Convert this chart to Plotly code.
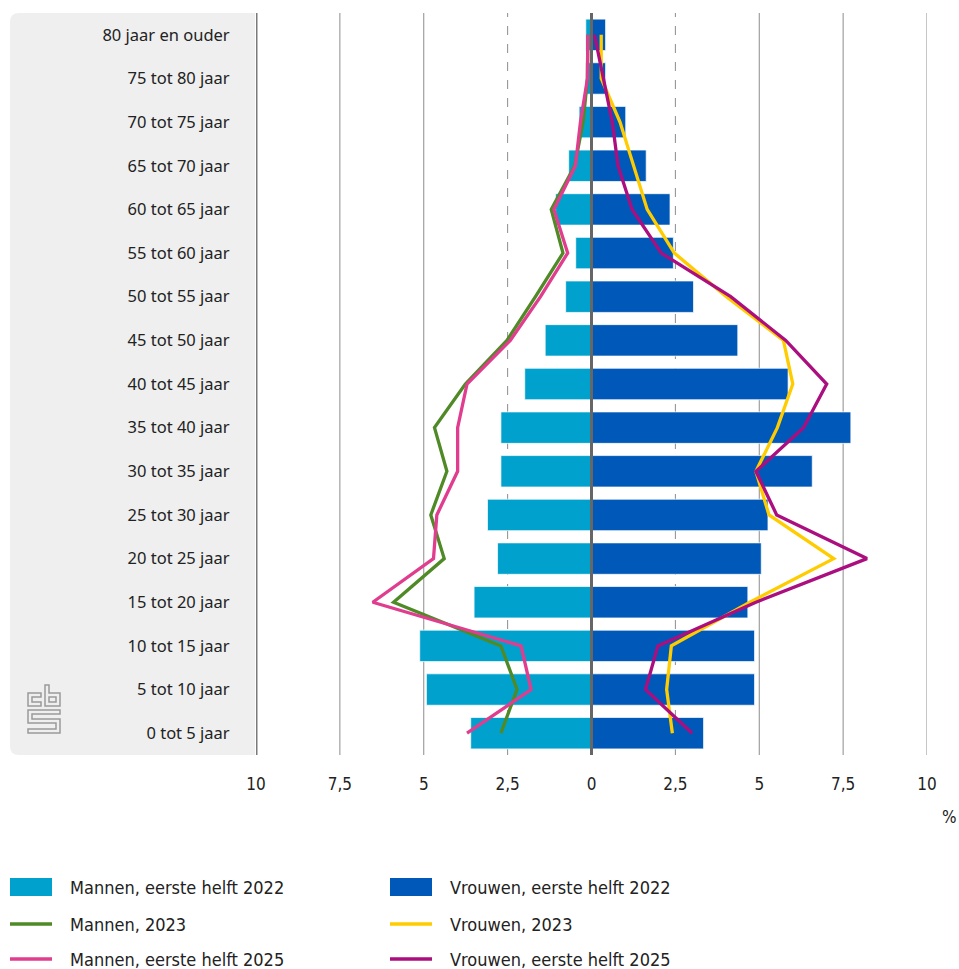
import plotly.graph_objects as go

leeftijd = ["80 jaar en ouder", "75 tot 80 jaar", "70 tot 75 jaar", "65 tot 70 jaar",
            "60 tot 65 jaar", "55 tot 60 jaar", "50 tot 55 jaar", "45 tot 50 jaar",
            "40 tot 45 jaar", "35 tot 40 jaar", "30 tot 35 jaar", "25 tot 30 jaar",
            "20 tot 25 jaar", "15 tot 20 jaar", "10 tot 15 jaar", "5 tot 10 jaar",
            "0 tot 5 jaar"]

mannen_2022 = [0.17, 0.17, 0.37, 0.68, 1.07, 0.47, 0.77, 1.38, 1.99, 2.70, 2.70, 3.10, 2.80, 3.50, 5.12, 4.92, 3.60]
vrouwen_2022 = [0.42, 0.42, 1.02, 1.63, 2.34, 2.44, 3.04, 4.36, 5.86, 7.73, 6.58, 5.26, 5.06, 4.66, 4.86, 4.86, 3.34]
mannen_2023 = [0.11, 0.12, 0.25, 0.50, 1.20, 0.85, 1.67, 2.52, 3.76, 4.68, 4.31, 4.79, 4.39, 5.90, 2.70, 2.22, 2.70]
vrouwen_2023 = [0.29, 0.29, 0.85, 1.26, 1.66, 2.47, 4.02, 5.72, 6.00, 5.54, 4.90, 5.29, 7.22, 4.72, 2.38, 2.24, 2.41]
mannen_2025 = [0.11, 0.12, 0.33, 0.48, 1.12, 0.71, 1.52, 2.42, 3.71, 3.99, 3.99, 4.61, 4.71, 6.52, 2.10, 1.80, 3.71]
vrouwen_2025 = [0.09, 0.35, 0.62, 0.79, 1.21, 2.08, 4.15, 5.79, 7.01, 6.32, 4.90, 5.52, 8.21, 4.90, 1.98, 1.61, 3.00]

tick_vals = [-10, -7.5, -5, -2.5, 0, 2.5, 5, 7.5, 10]
tick_text = ["10", "7,5", "5", "2,5", "0", "2,5", "5", "7,5", "10"]

LICHTBLAUW = "#00a1cd"
DONKERBLAUW = "#0058b8"
GROEN = "#4f8a27"
GEEL = "#ffcc00"
ROZE = "#e03d8f"
PAARS = "#ab0e7f"

COND = "Liberation Sans Narrow, DejaVu Sans Condensed, Roboto, sans-serif"

W, H = 959, 969
L, R, T, B = 256, 32, 13, 214
PW, PH = W - L - R, H - T - B


def px(x):
    return (x - L) / PW


def py(y):
    return (H - B - y) / PH


def neg(vals):
    return [-v for v in vals]


fig = go.Figure()
bar_line = dict(color="rgba(255,255,255,0.7)", width=1)
fig.add_trace(go.Bar(y=leeftijd, x=neg(mannen_2022), orientation="h", width=0.72,
                     marker=dict(color=LICHTBLAUW, line=bar_line), name="Mannen, eerste helft 2022"))
fig.add_trace(go.Bar(y=leeftijd, x=vrouwen_2022, orientation="h", width=0.72,
                     marker=dict(color=DONKERBLAUW, line=bar_line), name="Vrouwen, eerste helft 2022"))
fig.add_trace(go.Scatter(y=leeftijd, x=neg(mannen_2023), mode="lines",
                         line=dict(color=GROEN, width=3.3), name="Mannen, 2023"))
fig.add_trace(go.Scatter(y=leeftijd, x=vrouwen_2023, mode="lines",
                         line=dict(color=GEEL, width=3.3), name="Vrouwen, 2023"))
fig.add_trace(go.Scatter(y=leeftijd, x=neg(mannen_2025), mode="lines",
                         line=dict(color=ROZE, width=3.3), name="Mannen, eerste helft 2025"))
fig.add_trace(go.Scatter(y=leeftijd, x=vrouwen_2025, mode="lines",
                         line=dict(color=PAARS, width=3.3), name="Vrouwen, eerste helft 2025"))

shapes = []
# grijs vlak achter de categorieen
x0, x1, y0, y1, r = 10, 255, 13, 755, 9
path = (f"M {px(x1)},{py(y0)} L {px(x0 + r)},{py(y0)} Q {px(x0)},{py(y0)} {px(x0)},{py(y0 + r)} "
        f"L {px(x0)},{py(y1 - r)} Q {px(x0)},{py(y1)} {px(x0 + r)},{py(y1)} L {px(x1)},{py(y1)} Z")
shapes.append(dict(type="path", xref="paper", yref="paper", path=path,
                   fillcolor="#efefef", line=dict(width=0), layer="below"))

# rasterlijnen
for v in tick_vals:
    if v in (-10, 0):
        continue
    dash = "dash" if abs(v) == 2.5 else "solid"
    shapes.append(dict(type="line", xref="x", yref="paper", x0=v, x1=v, y0=0, y1=1,
                       line=dict(color="#8c8c8c", width=1, dash=dash), layer="below"))
shapes.append(dict(type="line", xref="x", yref="paper", x0=-10, x1=-10, y0=0, y1=1,
                   line=dict(color="#7a7a7a", width=3), layer="above"))
shapes.append(dict(type="line", xref="x", yref="paper", x0=0, x1=0, y0=0, y1=1,
                   line=dict(color="#666666", width=3), layer="above"))

# cbs logo
logo = [
    "M 41,693 L 28,693 L 28,706 L 41,706 L 41,702 L 32,702 L 32,697 L 41,697 Z",
    "M 45,685 L 49,685 L 49,693 L 60,693 L 60,706 L 45,706 Z M 49,697 L 56,697 L 56,702 L 49,702 Z",
    "M 60,710 L 28,710 L 28,723 L 56,723 L 56,729 L 28,729 L 28,733 L 60,733 L 60,719 L 32,719 L 32,714 L 60,714 Z",
]
for p in logo:
    out = []
    for tok in p.split():
        if "," in tok:
            a, b = tok.split(",")
            out.append(f"{px(float(a))},{py(float(b))}")
        else:
            out.append(tok)
    shapes.append(dict(type="path", xref="paper", yref="paper", path=" ".join(out),
                       line=dict(color="#9a9a9a", width=1.5), fillcolor="rgba(0,0,0,0)"))

# legenda
legend_items = [
    ("bar", LICHTBLAUW, "Mannen, eerste helft 2022", 10, 887),
    ("bar", DONKERBLAUW, "Vrouwen, eerste helft 2022", 390, 887),
    ("line", GROEN, "Mannen, 2023", 10, 924),
    ("line", GEEL, "Vrouwen, 2023", 390, 924),
    ("line", ROZE, "Mannen, eerste helft 2025", 10, 959),
    ("line", PAARS, "Vrouwen, eerste helft 2025", 390, 959),
]
annotations = []
for kind, color, label, lx, ly in legend_items:
    if kind == "bar":
        shapes.append(dict(type="rect", xref="paper", yref="paper",
                           x0=px(lx), x1=px(lx + 42), y0=py(ly - 9), y1=py(ly + 9),
                           fillcolor=color, line=dict(width=0)))
    else:
        shapes.append(dict(type="line", xref="paper", yref="paper",
                           x0=px(lx), x1=px(lx + 42), y0=py(ly), y1=py(ly),
                           line=dict(color=color, width=3.5)))
    annotations.append(dict(xref="paper", yref="paper", x=px(lx + 58), y=py(ly),
                            xanchor="left", yanchor="middle", text=label, showarrow=False,
                            font=dict(family=COND, size=18, color="#222222")))

annotations.append(dict(xref="paper", yref="paper", x=px(950), y=py(817), text="%",
                        showarrow=False, xanchor="center", yanchor="middle",
                        font=dict(family=COND, size=17, color="#222222")))

fig.update_layout(
    width=W, height=H,
    margin=dict(l=L, r=R, t=T, b=B),
    paper_bgcolor="white", plot_bgcolor="rgba(0,0,0,0)",
    barmode="overlay", showlegend=False,
    shapes=shapes, annotations=annotations,
    xaxis=dict(range=[-10, 10], tickvals=tick_vals, ticktext=tick_text,
               showgrid=False, zeroline=False, showline=False,
               ticks="outside", ticklen=14, tickcolor="rgba(0,0,0,0)",
               tickfont=dict(family=COND, size=17, color="#222222"), fixedrange=True),
    yaxis=dict(type="category", categoryorder="array", categoryarray=leeftijd[::-1],
               range=[-0.5, 16.5], showgrid=False, zeroline=False, showline=False,
               ticks="outside", ticklen=22, tickcolor="rgba(0,0,0,0)",
               tickfont=dict(family="Noto Sans", size=16.5, color="#222222"), fixedrange=True),
)

fig.write_html("out.html", config={"displayModeBar": False},
               post_script="document.body.style.margin='0';document.body.style.overflow='hidden';")
